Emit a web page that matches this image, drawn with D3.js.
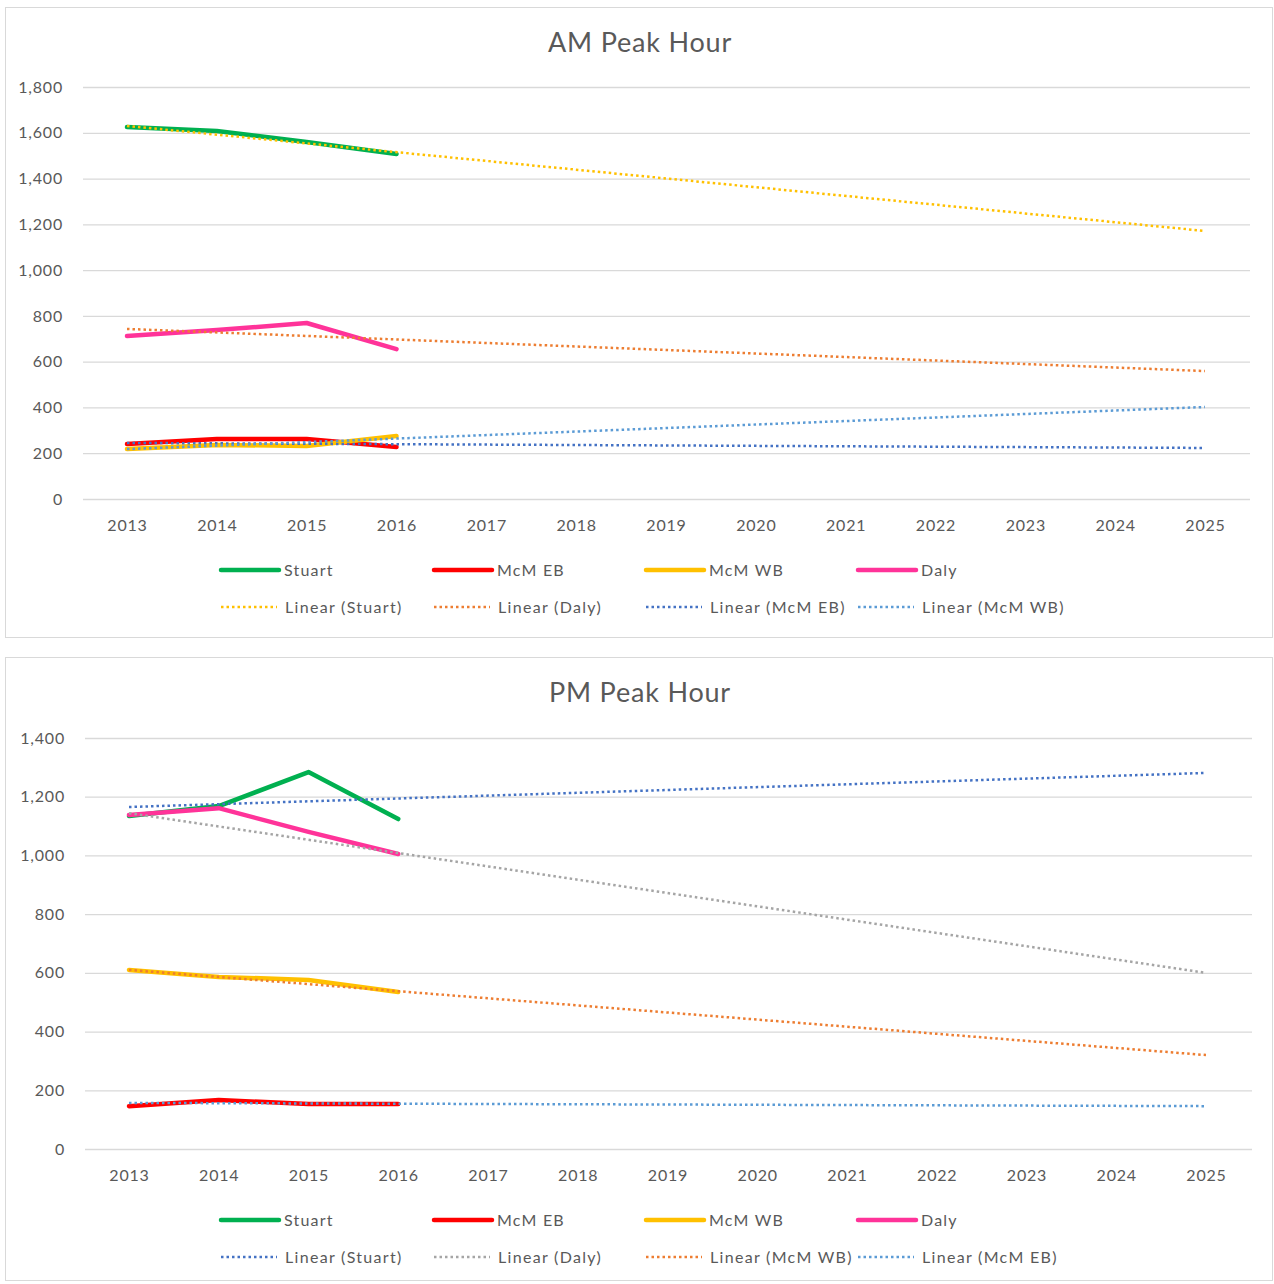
<!DOCTYPE html>
<html>
<head>
<meta charset="utf-8">
<script src="https://cdn.jsdelivr.net/npm/d3@7"></script>
<style>
  body { margin: 0; background: #fff; }
  text { font-family: Lato, "Open Sans", sans-serif; fill: #595959; }
</style>
</head>
<body>
<script>
let W = 1274
let H = 1284

// categories
let years = ["2013","2014","2015","2016","2017","2018","2019","2020","2021","2022","2023","2024","2025"]
let dataYears = ["2013","2014","2015","2016"]
let trendYears = ["2013","2025"]

// AM peak values
let amStuart = [1625, 1608, 1560, 1507]
let amMcmEB = [240, 262, 262, 227]
let amMcmWB = [218, 236, 232, 275]
let amDaly = [712, 738, 769, 655]
// AM trend line end values (2013, 2025)
let amTrendStuart = [1630, 1171]
let amTrendDaly = [743, 559]
let amTrendMcmEB = [245, 223]
let amTrendMcmWB = [218, 402]
let amTicks = [0, 200, 400, 600, 800, 1000, 1200, 1400, 1600, 1800]

// PM peak values
let pmStuart = [1134, 1168, 1284, 1124]
let pmMcmEB = [146, 167, 153, 153]
let pmMcmWB = [610, 586, 576, 535]
let pmDaly = [1138, 1161, 1080, 1005]
// PM trend line end values (2013, 2025)
let pmTrendStuart = [1165, 1281]
let pmTrendDaly = [1144, 600]
let pmTrendMcmWB = [610, 320]
let pmTrendMcmEB = [157, 146]
let pmTicks = [0, 200, 400, 600, 800, 1000, 1200, 1400]

let green = "#00B050", red = "#FF0000", gold = "#FFC000", pink = "#FF3399"
let tYellow = "#FFC000", tOrange = "#ED7D31", tBlue = "#4472C4", tLight = "#5B9BD5", tGray = "#A5A5A5"

let svg = d3.select("body").append("svg")
  .attr("width", W)
  .attr("height", H)

let styleText = (sel, spacing) => sel
  .attr("font-size", 16)
  .attr("fill", "#595959")
  .attr("letter-spacing", spacing)
  .style("font-family", "Lato, sans-serif")

let drawPanel = function(cfg) {
  let g = svg.append("g").attr("transform", "translate(0," + cfg.top + ")")

  g.append("rect")
    .attr("x", 5.5).attr("y", 0.5)
    .attr("width", 1267).attr("height", cfg.height)
    .attr("fill", "#fff").attr("stroke", "#d9d9d9")

  g.append("text")
    .attr("x", 640).attr("y", 45)
    .attr("text-anchor", "middle")
    .attr("font-size", 27)
    .attr("letter-spacing", 0.8)
    .text(cfg.title)

  let xScale = d3.scalePoint()
    .domain(years)
    .range([cfg.x0, cfg.x1])

  let yScale = d3.scaleLinear()
    .domain([0, d3.max(cfg.ticks)])
    .range([cfg.yBottom, cfg.yTop])

  // gridlines
  g.append("g")
    .attr("transform", "translate(" + cfg.gridLeft + ",0)")
    .call(d3.axisLeft(yScale).tickValues(cfg.ticks).tickSize(-(cfg.gridRight - cfg.gridLeft)).tickFormat(d3.format(",")).tickPadding(20))
    .call(a => a.select(".domain").remove())
    .call(a => a.selectAll("line").attr("stroke", "#d9d9d9").attr("stroke-width", 1.3))
    .call(a => styleText(a.selectAll("text"), 0.8))

  g.append("g")
    .attr("transform", "translate(0," + cfg.yBottom + ")")
    .call(d3.axisBottom(xScale).tickSize(0).tickPadding(21))
    .call(a => a.select(".domain").remove())
    .call(a => styleText(a.selectAll("text"), 0.8))

  let line = d3.line()
    .x(d => xScale(d.year))
    .y(d => yScale(d.value))

  cfg.series.forEach(s => {
    g.append("path")
      .datum(s.values.map((v, i) => ({ year: dataYears[i], value: v })))
      .attr("d", line)
      .attr("fill", "none")
      .attr("stroke", s.color)
      .attr("stroke-width", 4.5)
      .attr("stroke-linejoin", "round")
      .attr("stroke-linecap", "round")
  })

  cfg.trends.forEach(t => {
    g.append("path")
      .datum(t.values.map((v, i) => ({ year: trendYears[i], value: v })))
      .attr("d", line)
      .attr("fill", "none")
      .attr("stroke", t.color)
      .attr("stroke-width", 2.5)
      .attr("stroke-dasharray", "2.5,3")
  })

  // legend
  let leg = g.append("g")
  let cols = [221, 434, 646, 858]
  cfg.series.forEach((s, i) => {
    leg.append("line")
      .attr("x1", cols[i]).attr("x2", cols[i] + 58)
      .attr("y1", cfg.legY1).attr("y2", cfg.legY1)
      .attr("stroke", s.color).attr("stroke-width", 4.5)
      .attr("stroke-linecap", "round")
    leg.append("text")
      .attr("x", cols[i] + 63).attr("y", cfg.legY1 + 6)
      .call(t => styleText(t, 1.2))
      .text(s.name)
  })
  cfg.trends.forEach((t, i) => {
    leg.append("line")
      .attr("x1", cols[i]).attr("x2", cols[i] + 56)
      .attr("y1", cfg.legY2).attr("y2", cfg.legY2)
      .attr("stroke", t.color).attr("stroke-width", 2.5)
      .attr("stroke-dasharray", "2.5,3")
    leg.append("text")
      .attr("x", cols[i] + 64).attr("y", cfg.legY2 + 6)
      .call(s => styleText(s, 1.3))
      .text(t.name)
  })
}

drawPanel({
  top: 7, height: 630, title: "AM Peak Hour",
  x0: 127, x1: 1205, gridLeft: 83, gridRight: 1250,
  yTop: 80, yBottom: 492, ticks: amTicks,
  legY1: 563, legY2: 600,
  series: [
    { name: "Stuart", color: green, values: amStuart },
    { name: "McM EB", color: red, values: amMcmEB },
    { name: "McM WB", color: gold, values: amMcmWB },
    { name: "Daly", color: pink, values: amDaly }
  ],
  trends: [
    { name: "Linear (Stuart)", color: tYellow, values: amTrendStuart },
    { name: "Linear (Daly)", color: tOrange, values: amTrendDaly },
    { name: "Linear (McM EB)", color: tBlue, values: amTrendMcmEB },
    { name: "Linear (McM WB)", color: tLight, values: amTrendMcmWB }
  ]
})

drawPanel({
  top: 657, height: 623, title: "PM Peak Hour",
  x0: 129, x1: 1206, gridLeft: 85, gridRight: 1252,
  yTop: 81, yBottom: 492, ticks: pmTicks,
  legY1: 563, legY2: 600,
  series: [
    { name: "Stuart", color: green, values: pmStuart },
    { name: "McM EB", color: red, values: pmMcmEB },
    { name: "McM WB", color: gold, values: pmMcmWB },
    { name: "Daly", color: pink, values: pmDaly }
  ],
  trends: [
    { name: "Linear (Stuart)", color: tBlue, values: pmTrendStuart },
    { name: "Linear (Daly)", color: tGray, values: pmTrendDaly },
    { name: "Linear (McM WB)", color: tOrange, values: pmTrendMcmWB },
    { name: "Linear (McM EB)", color: tLight, values: pmTrendMcmEB }
  ]
})
</script>
</body>
</html>
